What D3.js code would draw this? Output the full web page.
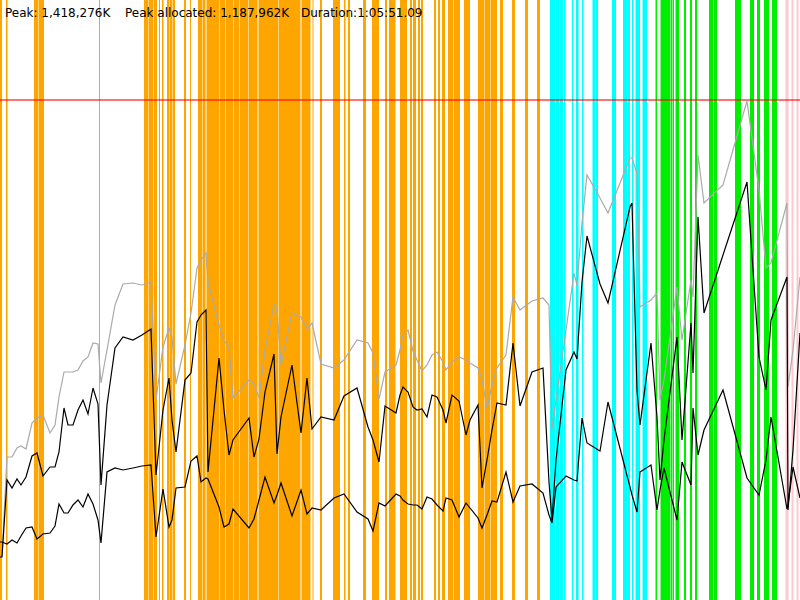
<!DOCTYPE html>
<html>
<head>
<meta charset="utf-8">
<script src="https://cdn.jsdelivr.net/npm/d3@7/dist/d3.min.js"></script>
<style>
html,body{margin:0;padding:0;background:#fff;}
svg{display:block;}
</style>
</head>
<body>
<svg id="chart" width="800" height="600"></svg>
<script>
// Time axis in sample units (0..800), memory in units where the peak = 500
const times = [0,2,7,12,17,21,26,32,37,43,50,55,59,64,68,73,78,83,88,93,98,101,107,115,123,133,142,151,156,163,169,172,176,185,191,197,201,206,208,219,224,229,233,249,254,259,265,274,277,281,292,301,307,312,321,334,344,357,368,373,379,385,396,400,403,408,413,417,422,427,432,437,443,446,452,459,466,470,478,482,487,492,497,506,513,520,532,543,549,552,556,566,574,577,582,587,600,608,630,632,637,640,651,657,660,664,677,682,691,693,698,704,723,747,759,766,771,787,788,793,800];
const committed = [43,45,143,143,152,154,151,177,182,185,167,175,203,228,228,228,230,239,243,257,256,217,250,295,316,317,315,318,200,253,272,263,216,255,287,332,340,347,318,275,260,252,202,220,216,202,250,296,290,235,287,283,271,277,236,232,240,260,257,247,201,228,235,250,265,270,249,240,229,235,245,248,238,230,238,243,240,237,232,220,192,215,232,245,303,290,299,302,295,170,200,270,327,315,377,425,402,387,442,442,427,293,300,307,200,220,313,260,320,303,445,397,415,499,410,332,337,397,213,250,323];
const used = [43,43,120,112,121,115,123,144,147,124,133,133,148,192,175,175,190,200,186,212,196,115,195,252,263,260,265,271,125,190,222,180,148,220,227,278,285,290,128,242,190,145,160,182,143,161,208,246,146,183,235,167,222,171,183,180,204,212,173,160,138,194,187,205,213,208,193,190,191,183,205,203,190,177,205,199,165,180,195,112,140,170,197,195,257,194,228,232,118,80,140,230,248,241,318,364,316,297,393,397,210,175,257,183,120,160,263,160,277,227,383,287,345,418,243,210,280,323,90,150,267];
const afterGC = [58,58,56,60,57,64,72,73,61,66,67,74,96,87,87,95,100,93,106,96,80,57,128,132,130,132,134,135,63,111,73,80,112,113,139,144,118,122,121,93,73,76,91,72,81,100,123,97,105,117,84,110,86,92,90,102,106,88,81,69,97,94,106,104,100,96,95,95,91,103,101,95,89,102,100,83,97,92,82,72,85,99,98,128,98,114,116,107,85,77,113,124,120,119,182,157,149,198,113,105,88,128,135,90,110,132,80,138,115,192,145,170,210,122,105,140,183,91,95,133,102];
const peakValue = 500;

// GC event intervals [start, end] by collector type
const gcOrange = [[0,2],[6,7.5],[34,38],[38.5,44],[99,100],[144,148],[148.5,153],[153.5,157],[159,160],[162,163.5],[167,169],[169.5,172],[172.5,175],[184,186],[190,191],[198,202.5],[203,205.5],[206.5,219.5],[220,225.5],[226,233],[233.5,239.5],[240,248.5],[249,257.5],[258.5,278.5],[279,300.5],[301.5,310.5],[312.5,313.5],[320,322],[333,340],[344,345.5],[348,350],[363,366],[372,379],[385,387],[389,395.5],[400,407],[410,412],[413,416],[418,420],[421,423],[434,436],[438,440],[442,445],[448,453],[453.5,460],[464,470],[478,484],[484.5,490],[490.5,497],[500,503],[512,515],[525,528],[537,540]];
const gcCyan = [[550,555],[555.5,559.5],[560,563],[564,565.5],[572,573.5],[576,578.5],[582,583.5],[592.5,595],[595.5,598],[612,616],[623,627],[627.5,630],[632,633.5],[635.5,640],[642.5,647]];
const gcGreen = [[655.5,657],[660.5,670],[670.5,672],[672.5,674],[675.5,679],[684,686],[690,692],[695,697],[709,713],[713.5,717],[735,741],[750,754],[757,760],[764,769],[772,777]];
const gcPink = [[785.5,788.5],[791.5,793.5],[796.5,798.5]];

const W = 800, H = 600;
const svg = d3.select('#chart');
const x = d3.scaleLinear().domain([0, 800]).range([0, W]);
const y = d3.scaleLinear().domain([0, 600]).range([H, 0]);

function bars(data, color) {
  svg.append('g').selectAll('rect').data(data).enter().append('rect')
    .attr('x', d => x(d[0]))
    .attr('width', d => x(d[1]) - x(d[0]))
    .attr('y', 0).attr('height', H)
    .attr('fill', color);
}
bars(gcOrange, '#ffa500');
bars(gcCyan, '#00ffff');
bars(gcGreen, '#00ee00');
bars(gcPink, '#ffc8d0');

svg.append('line')
  .attr('x1', 0).attr('x2', W)
  .attr('y1', y(peakValue)).attr('y2', y(peakValue))
  .attr('stroke', 'rgba(255,0,0,0.55)').attr('stroke-width', 2);

function line(vals, color, w) {
  const gen = d3.line().x((d, i) => x(times[i])).y(d => y(d));
  svg.append('path').datum(vals).attr('d', gen)
    .attr('fill', 'none').attr('stroke', color).attr('stroke-width', w)
    .attr('stroke-linejoin', 'miter');
}
line(committed, '#aaaaaa', 1.2);
line(used, '#000000', 1.2);
line(afterGC, '#000000', 1.2);

const labels = [
  {x: 5, t: 'Peak: 1,418,276K'},
  {x: 125, t: 'Peak allocated: 1,187,962K'},
  {x: 301, t: 'Duration:1:05:51.09'}
];
svg.append('g').selectAll('text').data(labels).enter().append('text')
  .attr('x', d => d.x).attr('y', 17)
  .attr('font-family', 'DejaVu Sans, Verdana, sans-serif')
  .attr('font-size', 12).attr('fill', '#000')
  .text(d => d.t);
</script>
</body>
</html>
